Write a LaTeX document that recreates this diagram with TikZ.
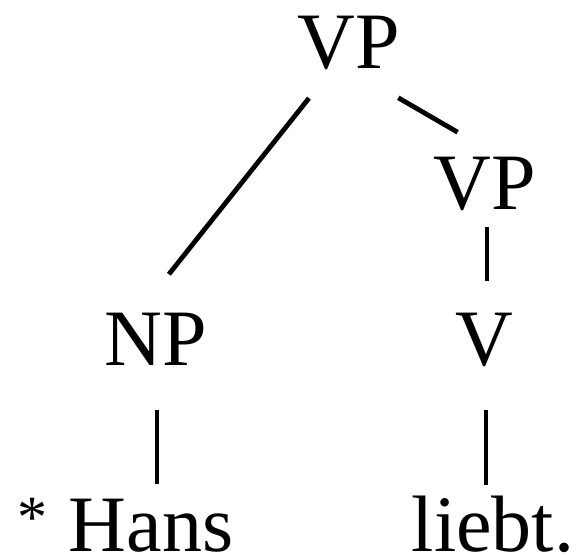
\documentclass[tikz,border=0pt]{standalone}
\usepackage{fontspec}
\setmainfont{Liberation Serif}
\usetikzlibrary{calc}
\tikzset{
  lbl/.style={inner sep=0pt, anchor=base, text height=53pt, text depth=0pt,
    font=\fontsize{80}{96}\selectfont},
  branch/.style={line width=4.8pt}
}
\begin{document}
\begin{tikzpicture}[x=1pt,y=-1pt]
\useasboundingbox (0,0) rectangle (576,556);
\node[lbl] (vp1) at (349,69) {VP};
\node[lbl] (vp2) at (485,210) {VP};
\node[lbl] (np) at (156,365) {NP};
\node[lbl] (v) at (484,365) {V};
\node[lbl] (hans) at (151,551) {\llap{{\fontsize{60}{60}\selectfont\raisebox{14pt}{*}}\hspace{21pt}}Hans};
\node[lbl] (liebt) at (493,551) {liebt.};
\draw[branch, shorten <=37pt, shorten >=48pt] ([xshift=-17pt]vp1.south) -- ([xshift=-17pt]np.north);
\draw[branch, shorten <=57pt, shorten >=49pt] (vp1.south) -- ([xshift=15pt]vp2.north);
\draw[branch, shorten <=17pt, shorten >=31pt] ([xshift=2pt]vp2.south) -- ([xshift=2pt]vp2.south |- v.north);
\draw[branch, shorten <=45pt, shorten >=14pt] ([xshift=1pt]np.south) -- ([xshift=1pt]np.south |- hans.north);
\draw[branch, shorten <=45pt, shorten >=13pt] ([xshift=2pt]v.south) -- ([xshift=2pt]v.south |- liebt.north);
\end{tikzpicture}
\end{document}
